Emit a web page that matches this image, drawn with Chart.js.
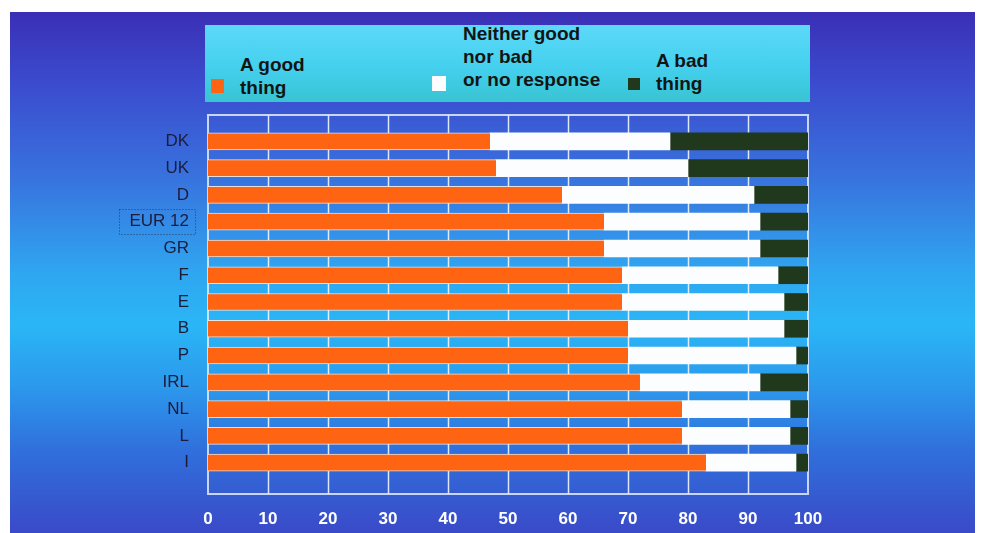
<!DOCTYPE html>
<html>
<head>
<meta charset="utf-8">
<script src="https://cdn.jsdelivr.net/npm/chart.js@4.4.1/dist/chart.umd.min.js"></script>
<style>
  body { margin: 0; background: #fff; }
  #wrap { position: relative; width: 982px; height: 533px; overflow: hidden; }
  #panel {
    position: absolute; left: 10px; top: 12px; width: 965px; height: 521px;
    background: linear-gradient(180deg, #3a2fb6 0%, #3b4cce 14%, #3873de 32%, #2fa6f0 50%, #2ab6f6 60%, #2c98ec 72%, #3070dc 84%, #3a4ac8 100%);
  }
  #chart { position: absolute; left: 0; top: 0; }
  .legend {
    position: absolute; left: 205px; top: 25px; width: 605px; height: 77px;
    background: linear-gradient(180deg, #5cd9f8 0%, #44d0ee 55%, #38c4d2 100%);
  }
  .lbl {
    position: absolute; font: bold 19px "Liberation Sans", Arial, sans-serif;
    line-height: 23px; color: #141414; white-space: nowrap;
  }
  .sw { position: absolute; }
</style>
</head>
<body>
<div id="wrap">
  <div id="panel"></div>
  <div class="legend"></div>
  <div class="sw" style="left:211px;top:79px;width:13px;height:14px;background:#ff6412;"></div>
  <div class="lbl" style="left:240px;top:53px;">A good<br>thing</div>
  <div class="sw" style="left:432px;top:76px;width:14px;height:15px;background:#fbfdff;"></div>
  <div class="lbl" style="left:463px;top:22px;">Neither good<br>nor bad<br>or no response</div>
  <div class="sw" style="left:628px;top:78px;width:12px;height:12px;background:#20381c;"></div>
  <div class="lbl" style="left:656px;top:49px;">A bad<br>thing</div>
  <canvas id="chart" width="982" height="533"></canvas>
</div>
<script>
// opinion on membership, percent of respondents
const countries = ['DK', 'UK', 'D', 'EUR 12', 'GR', 'F', 'E', 'B', 'P', 'IRL', 'NL', 'L', 'I'];
const goodThing = [47, 48, 59, 66, 66, 69, 69, 70, 70, 72, 79, 79, 83];
const neither   = [30, 32, 32, 26, 26, 26, 27, 26, 28, 20, 18, 18, 15];
const badThing  = [23, 20,  9,  8,  8,  5,  4,  4,  2,  8,  3,  3,  2];
const xTicks = [0, 10, 20, 30, 40, 50, 60, 70, 80, 90, 100];

const FONT = '"Liberation Sans", Arial, sans-serif';

// frame and vertical grid, drawn a bit taller than the bar area
const framePlugin = {
  id: 'frame',
  beforeDatasetsDraw(chart) {
    const { ctx, chartArea, scales } = chart;
    const top = chartArea.top - 13, bottom = chartArea.bottom + 18;
    ctx.save();
    ctx.strokeStyle = 'rgba(240,246,255,0.9)';
    ctx.lineWidth = 1.5;
    xTicks.slice(1, -1).forEach(v => {
      const x = Math.round(scales.x.getPixelForValue(v)) + 0.5;
      ctx.beginPath();
      ctx.moveTo(x, top);
      ctx.lineTo(x, bottom);
      ctx.stroke();
    });
    ctx.strokeStyle = 'rgba(225,235,255,0.85)';
    ctx.lineWidth = 2;
    ctx.strokeRect(chartArea.left, top, chartArea.right - chartArea.left, bottom - top);
    ctx.restore();
  },
  afterDraw(chart) {
    // dotted box round the community average
    const { ctx, scales } = chart;
    const y = scales.y.getPixelForValue(countries.indexOf('EUR 12'));
    ctx.save();
    ctx.strokeStyle = 'rgba(40,40,70,0.8)';
    ctx.lineWidth = 1;
    ctx.setLineDash([1, 2]);
    ctx.strokeRect(119.5, Math.round(y) - 12.5, 76, 25);
    ctx.restore();
  }
};

new Chart(document.getElementById('chart'), {
  type: 'bar',
  data: {
    labels: countries,
    datasets: [
      {
        label: 'A good thing',
        data: goodThing,
        backgroundColor: '#ff6412',
        borderColor: 'rgba(255,232,215,0.9)',
        borderWidth: { top: 1, bottom: 1 },
        borderSkipped: false,
      },
      {
        label: 'Neither good nor bad or no response',
        data: neither,
        backgroundColor: '#fbfdff',
      },
      {
        label: 'A bad thing',
        data: badThing,
        backgroundColor: '#20381c',
      },
    ],
  },
  options: {
    indexAxis: 'y',
    responsive: false,
    animation: false,
    barThickness: 17,
    layout: { padding: { top: 128, right: 174, bottom: 0, left: 0 } },
    plugins: {
      legend: { display: false },
      tooltip: { enabled: false },
    },
    scales: {
      x: {
        stacked: true,
        min: 0,
        max: 100,
        grid: { display: false },
        border: { display: false },
        afterBuildTicks: s => { s.ticks = xTicks.map(v => ({ value: v })); },
        afterFit: s => { s.height = 57; },
        ticks: {
          color: '#ffffff',
          padding: 25,
          font: { family: FONT, size: 17, weight: 'bold' },
        },
      },
      y: {
        stacked: true,
        grid: { display: false },
        border: { display: false },
        afterFit: s => { s.width = 208; },
        ticks: {
          color: '#1c1c3a',
          padding: 11,
          font: { family: FONT, size: 17 },
        },
      },
    },
  },
  plugins: [framePlugin],
});
</script>
</body>
</html>
